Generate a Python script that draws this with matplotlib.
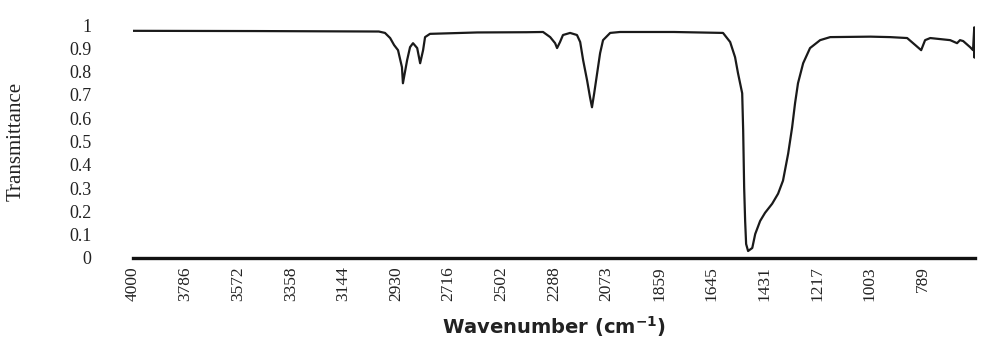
import matplotlib
matplotlib.use("Agg")
import matplotlib.pyplot as plt

# IR spectrum (wavenumber in cm-1, transmittance)
wavenumber = [4000, 3500, 3000, 2975, 2954, 2938, 2922, 2906, 2902, 2885, 2873,
              2861, 2844, 2832, 2820, 2812, 2792, 2600, 2400, 2332, 2303, 2283,
              2275, 2263, 2251, 2222, 2194, 2181, 2169, 2153, 2141, 2133, 2124,
              2112, 2100, 2088, 2059, 2019, 1800, 1600, 1571, 1551, 1539, 1522,
              1518, 1514, 1510, 1506, 1498, 1481, 1469, 1449, 1429, 1400, 1376,
              1356, 1335, 1319, 1307, 1295, 1274, 1246, 1205, 1164, 1000, 920,
              851, 818, 794, 778, 757, 676, 648, 636, 623, 595, 583, 578, 577,
              576, 575]
transmittance = [0.975, 0.974, 0.972, 0.966, 0.944, 0.914, 0.892, 0.819, 0.75,
                 0.849, 0.905, 0.922, 0.901, 0.836, 0.892, 0.948, 0.962, 0.968,
                 0.969, 0.97, 0.948, 0.922, 0.901, 0.927, 0.957, 0.966, 0.957,
                 0.927, 0.849, 0.763, 0.69, 0.647, 0.707, 0.793, 0.879, 0.935,
                 0.966, 0.97, 0.97, 0.966, 0.927, 0.862, 0.793, 0.707, 0.547,
                 0.302, 0.159, 0.06, 0.03, 0.043, 0.103, 0.159, 0.194, 0.233,
                 0.276, 0.332, 0.448, 0.56, 0.664, 0.75, 0.836, 0.901, 0.935,
                 0.948, 0.95, 0.948, 0.944, 0.914, 0.892, 0.935, 0.944, 0.935,
                 0.922, 0.935, 0.931, 0.905, 0.892, 0.99, 0.86, 0.97, 0.9]

xtick_values = [4000, 3786, 3572, 3358, 3144, 2930, 2716, 2502, 2288, 2073,
                1859, 1645, 1431, 1217, 1003, 789]
ytick_values = [0, 0.1, 0.2, 0.3, 0.4, 0.5, 0.6, 0.7, 0.8, 0.9, 1]
ytick_labels = ["0", "0.1", "0.2", "0.3", "0.4", "0.5", "0.6", "0.7", "0.8", "0.9", "1"]

fig = plt.figure(figsize=(9.81, 3.45), dpi=100)
ax = fig.add_axes([133 / 981, 1 - 258 / 345, 842 / 981, 233 / 345])

ax.plot(wavenumber, transmittance, color="#1a1a1a", linewidth=1.6)

ax.set_xlim(4000, 575)
ax.set_ylim(0, 1)

for side in ["top", "right", "left"]:
    ax.spines[side].set_visible(False)
ax.spines["bottom"].set_linewidth(2.4)
ax.spines["bottom"].set_color("#111111")

ax.set_xticks(xtick_values)
ax.set_xticklabels([str(v) for v in xtick_values], rotation=90,
                   fontfamily="Liberation Serif", fontsize=12.5, color="#222222")
ax.set_yticks(ytick_values)
ax.set_yticklabels(ytick_labels, fontfamily="Liberation Serif", fontsize=13,
                   color="#222222")
ax.tick_params(axis="both", length=0)
ax.tick_params(axis="y", pad=30)
ax.tick_params(axis="x", pad=6)

ax.set_ylabel("Transmittance", fontfamily="Liberation Serif", fontsize=15,
              color="#222222")
ax.yaxis.set_label_coords(-0.128, 0.5)

ax.set_xlabel(r"Wavenumber (cm$^{\mathbf{-1}}$)", fontfamily="DejaVu Sans",
              fontweight="bold", fontsize=14, color="#222222")
ax.xaxis.set_label_coords(0.5, -0.24)

fig.savefig("out.png", dpi=100)
